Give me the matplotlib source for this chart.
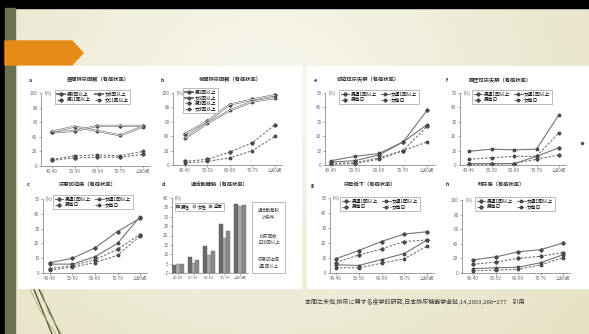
import matplotlib.pyplot as plt
import numpy as np
from matplotlib.patches import Rectangle, Polygon

plt.rcParams['font.family'] = ['Noto Sans CJK JP', 'DejaVu Sans']

W, H = 589, 334

ages = ['40-49', '50-59', '60-69', '70-79', '≥80歳']

# a 昼間排尿回数
day_m8 = [46, 48, 55, 55, 55]
day_f8 = [47, 54, 48, 42, 54]
day_m11 = [8, 11, 12, 12, 16]
day_f11 = [9, 14, 15, 14, 20]
# b 夜間排尿回数
night_m1 = [43, 61, 84, 91, 97]
night_f1 = [37, 58, 76, 88, 93]
night_m3 = [5, 8, 18, 31, 56]
night_f3 = [3, 5, 10, 20, 40]
# c 尿意切迫感
urg_m_w = [7, 10, 17, 28, 37]
urg_f_w = [6, 6, 11, 20, 38]
urg_m_d = [3, 5, 9, 16, 26]
urg_f_d = [2, 4, 7, 12, 25]
# d 過活動膀胱
oab_m = [4.5, 8.5, 14.5, 26, 37]
oab_f = [5, 5.5, 9.5, 18.5, 36]
oab_all = [4.8, 7, 12, 22.5, 36.5]
# e 切迫性尿失禁
uui_m_w = [2, 3, 7, 16, 38]
uui_f_w = [3, 6, 8, 16, 28]
uui_m_d = [1, 1.5, 5, 10, 27]
uui_f_d = [0.5, 1, 4, 10, 16]
# f 腹圧性尿失禁
sui_m_w = [1, 1, 1, 6, 12]
sui_f_w = [9.5, 11, 10.5, 11, 35]
sui_m_d = [0.5, 0.5, 1, 4, 7]
sui_f_d = [4, 5, 6, 6, 22.5]
# g 尿勢低下
weak_m_w = [9.5, 15, 21, 26, 27.5]
weak_f_w = [5.5, 5, 9, 13, 22]
weak_m_d = [7, 12, 16, 21, 22]
weak_f_d = [3.5, 3.5, 6.5, 9.5, 18]
# h 残尿感
resid_m_w = [18, 22, 29, 32, 41]
resid_f_w = [6, 7, 8, 14, 25]
resid_m_d = [12, 15, 20, 23, 28]
resid_f_d = [3, 4, 5, 11, 21]

weekly_labels = ['男週1回以上', '女週1回以上', '男毎日', '女毎日']

fig = plt.figure(figsize=(W / 100, H / 100), dpi=100)

# slide background in pixel coordinates
bg = fig.add_axes([0, 0, 1, 1])
bg.set_xlim(0, W)
bg.set_ylim(H, 0)
bg.axis('off')

gx, gy = np.meshgrid(np.linspace(0, 1, 300), np.linspace(0, 1, 170))
shade = np.clip(np.sqrt(((gx - 0.45) / 0.7) ** 2 + ((gy - 0.3) / 1.1) ** 2), 0, 1)
light = np.array([0.975, 0.972, 0.935])
dark = np.array([0.9, 0.885, 0.77])
grad = light + (dark - light) * shade[..., None]
bg.imshow(grad, extent=(0, W, H, 0), aspect='auto', zorder=0)

bg.add_patch(Rectangle((0, 0), W, 8, color='black', zorder=1))
bg.add_patch(Rectangle((0, 0), 5, H, color='black', zorder=1))
bg.add_patch(Rectangle((5, 8), 10, H, color='#6a7150', zorder=1))
bg.add_patch(Polygon([(5, 41), (72, 41), (83, 53), (72, 65), (5, 65)],
                     closed=True, color='#e88a16', zorder=2))

# decorative strokes bottom-left
bg.plot([33, 52], [287, 334], color='#4f5a2e', lw=1.0, zorder=1)
bg.plot([38, 60], [287, 334], color='#4f5a2e', lw=1.0, zorder=1)
bg.plot([30, 40, 56], [289, 310, 334], color='#a7ad8a', lw=0.6, zorder=1)
bg.plot([42, 48, 62], [290, 312, 334], color='#b7bb9b', lw=0.5, zorder=1)

# white figure panels
bg.add_patch(Rectangle((18, 66), 283, 222, color='white', zorder=3))
bg.add_patch(Rectangle((307, 66), 282, 222, color='white', zorder=3))
bg.plot([582], [143], marker='o', ms=1.5, color='#555555', zorder=4)

bg.text(305, 302, '本間之夫他,排尿に関する疫学的研究,日本排尿機能学会誌,14,2003,266−277　引用',
        fontsize=4.3, color='#333333', va='center', ha='left', zorder=4)

tick_col = '#666666'


def make_axes(x0, x1, ytop, ybot):
    ax = fig.add_axes([x0 / W, 1 - ybot / H, (x1 - x0) / W, (ybot - ytop) / H])
    ax.patch.set_alpha(0)
    for s in ['top', 'right']:
        ax.spines[s].set_visible(False)
    for s in ['left', 'bottom']:
        ax.spines[s].set_linewidth(0.5)
        ax.spines[s].set_color('#777777')
    ax.tick_params(labelsize=3.3, colors=tick_col, length=1.5, width=0.4, pad=1)
    ax.text(0.03, 1.0, '(%)', transform=ax.transAxes, fontsize=3.2, color=tick_col,
            va='center', ha='left')
    return ax


def add_heading(letter, lx, tx, ty, title):
    bg.text(lx, ty, letter, fontsize=3.8, fontweight='bold', color='#333333',
            va='center', ha='center', zorder=5)
    bg.text(tx, ty, title, fontsize=3.8, fontweight='bold', color='#333333',
            va='center', ha='center', zorder=5)


def line_panel(box, xlim, ymax, ystep, series, labels, leg_xy, ncol, hollow=False):
    ax = make_axes(*box)
    xs = np.arange(len(ages))
    handles = []
    for i, vals in enumerate(series):
        ls = '-' if i < 2 else (0, (2.2, 1.4))
        mk = 'D' if i % 2 == 0 else 'o'
        if hollow and i < 2:
            h, = ax.plot(xs, vals, color='#808080', lw=1.5, ls=ls, marker=mk, ms=1.8,
                         mfc='#4a4a4a', mec='#4a4a4a', label=labels[i])
            ax.plot(xs, vals, color='white', lw=0.5)
        else:
            h, = ax.plot(xs, vals, color='#747474', lw=0.8, ls=ls, marker=mk, ms=1.8,
                         mfc='#4a4a4a', mec='#4a4a4a', label=labels[i])
        handles.append(h)
    if ncol == 2:
        order = [0, 2, 1, 3]
        handles = [handles[k] for k in order]
    ax.legend(handles=handles, loc='upper left', ncol=ncol,
              bbox_to_anchor=(leg_xy[0] / W, 1 - leg_xy[1] / H), bbox_transform=fig.transFigure,
              borderaxespad=0, fontsize=3.4, handlelength=1.8, handletextpad=0.3,
              columnspacing=0.9, borderpad=0.35, labelspacing=0.15, fancybox=False,
              edgecolor='#888888', framealpha=1)
    ax.get_legend().get_frame().set_linewidth(0.4)
    ax.set_xlim(*xlim)
    ax.set_ylim(0, ymax)
    ax.set_yticks(np.arange(0, ymax + 1, ystep))
    ax.set_xticks(xs)
    ax.set_xticklabels(ages)
    return ax


# top row
line_panel((41, 150, 93, 166), (-0.48, 4.31), 100, 20,
           [day_m8, day_f8, day_m11, day_f11],
           ['男8回以上', '女8回以上', '男11回以上', '女11回以上'], (55, 90), 2, hollow=True)
add_heading('a', 30, 98, 80, '昼間排尿回数（有症状率）')

line_panel((173, 282, 93, 165), (-0.53, 4.31), 100, 20,
           [night_m1, night_f1, night_m3, night_f3],
           ['男1回以上', '女1回以上', '男3回以上', '女3回以上'], (183, 88), 1, hollow=True)
add_heading('b', 162, 230, 80, '夜間排尿回数（有症状率）')

line_panel((325, 435, 93, 165), (-0.25, 4.33), 50, 10,
           [uui_m_w, uui_f_w, uui_m_d, uui_f_d], weekly_labels, (339, 90), 2)
add_heading('e', 315, 368, 80, '切迫性尿失禁（有症状率）')

line_panel((460, 566, 93, 165), (-0.4, 4.31), 50, 10,
           [sui_m_w, sui_f_w, sui_m_d, sui_f_d], weekly_labels, (472, 90), 2)
add_heading('f', 447, 500, 80, '腹圧性尿失禁（有症状率）')

# bottom row
line_panel((43, 147, 199, 273), (-0.31, 4.31), 50, 10,
           [urg_m_w, urg_f_w, urg_m_d, urg_f_d], weekly_labels, (53, 195), 2)
add_heading('c', 28, 88, 185, '尿意切迫感（有症状率）')

line_panel((330, 434, 198, 273), (-0.26, 4.3), 50, 10,
           [weak_m_w, weak_f_w, weak_m_d, weak_f_d], weekly_labels, (340, 197), 2)
add_heading('g', 312, 370, 185, '尿勢低下（有症状率）')

line_panel((462, 570, 200, 273), (-0.49, 4.31), 100, 20,
           [resid_m_w, resid_f_w, resid_m_d, resid_f_d], weekly_labels, (475, 197), 2)
add_heading('h', 447, 502, 185, '残尿感（有症状率）')

# d: grouped bars
axd = make_axes(172, 248, 198, 273)
xs = np.arange(len(ages))
bw = 0.24
axd.bar(xs - bw, oab_m, bw, color='#6b6b6b', edgecolor='#555555', lw=0.3, label='男性')
axd.bar(xs, oab_f, bw, color='#a9a9a9', edgecolor='#777777', lw=0.3, label='女性')
axd.bar(xs + bw, oab_all, bw, color='#8a8a8a', edgecolor='#666666', lw=0.3, label='全体')
axd.set_xlim(-0.39, 4.52)
axd.set_ylim(0, 40)
axd.set_yticks(np.arange(0, 41, 5))
axd.set_xticks(xs)
axd.set_xticklabels(ages, fontsize=2.9)
axd.legend(loc='upper left', ncol=3, bbox_to_anchor=(175 / W, 1 - 203 / H),
           bbox_transform=fig.transFigure, borderaxespad=0, fontsize=3.2,
           handlelength=0.8, handleheight=0.8, handletextpad=0.3, columnspacing=0.6,
           borderpad=0.3, fancybox=False, edgecolor='#888888', framealpha=1)
axd.get_legend().get_frame().set_linewidth(0.4)
add_heading('d', 163, 220, 185, '過活動膀胱（有症状率）')

# condition box beside panel d
bg.add_patch(Rectangle((252, 202), 33, 71, facecolor='white', edgecolor='#888888',
                       lw=0.4, zorder=5))
for ty, txt in [(214, '過活動膀胱\nの条件'), (239, '排尿回数\n1日8回以上'),
                (263, '尿意切迫感\n週1回以上')]:
    bg.text(268.5, ty, txt, fontsize=3.2, color='#444444', ha='center', va='center',
            linespacing=1.3, zorder=6)

fig.savefig('out.png', dpi=100)
